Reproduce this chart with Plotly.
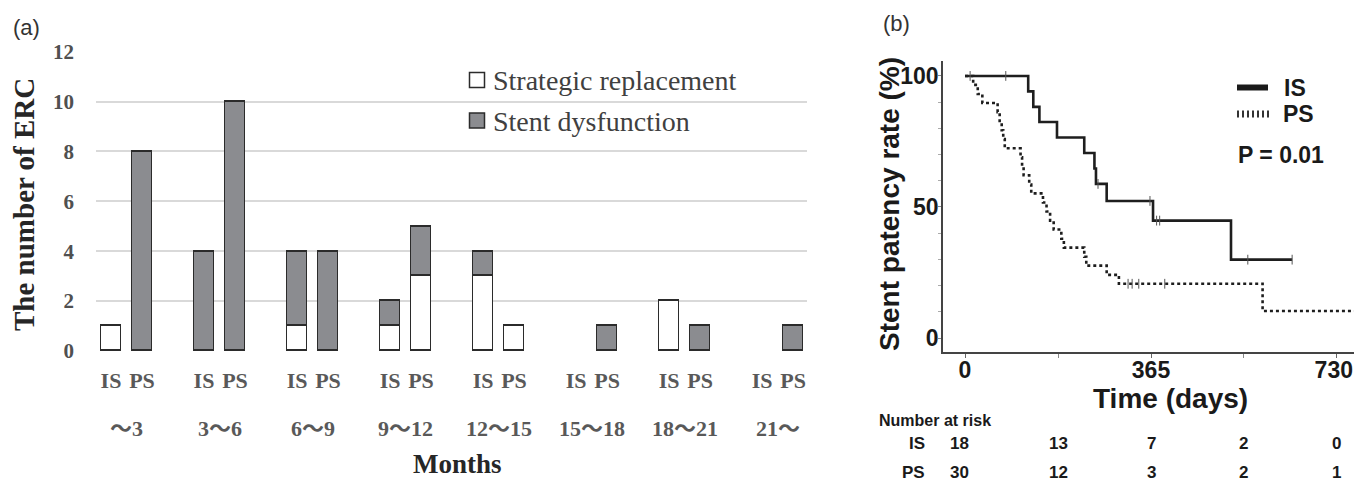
import plotly.graph_objects as go

# ---------------- Panel (a) data ----------------
month_bins = ["～3", "3～6", "6～9", "9～12", "12～15", "15～18", "18～21", "21～"]
group_names = ["IS", "PS"]
is_strategic = [1, 0, 1, 1, 3, 0, 2, 0]
is_dysfunction = [0, 4, 3, 1, 1, 0, 0, 0]
ps_strategic = [0, 0, 0, 3, 1, 0, 0, 0]
ps_dysfunction = [8, 10, 4, 2, 0, 1, 1, 1]
y_ticks_a = [0, 2, 4, 6, 8, 10, 12]

# ---------------- Panel (b) data ----------------
is_time = [0, 124, 134, 146, 180.5, 234, 254, 257, 278, 369, 522, 642]
is_surv = [100, 94.1, 88.2, 82.4, 76.5, 70.6, 64.7, 58.8, 52.3, 44.8, 29.9, 29.9]
is_cens_time = [80, 261, 363, 376, 382, 555, 642]
is_cens_surv = [100, 58.8, 52.3, 44.8, 44.8, 29.9, 29.9]
ps_time = [0, 16, 25, 34, 64, 68, 72, 75, 78, 109, 112, 115, 126, 130, 153, 160,
           167, 174, 189, 194, 234, 238, 278, 302, 584, 780]
ps_surv = [100, 96.6, 93.1, 89.7, 86.2, 82.8, 79.3, 75.9, 72.4, 69.0, 65.5, 62.1,
           58.6, 55.2, 51.7, 48.3, 44.8, 41.4, 37.9, 34.5, 31.0, 27.6, 24.1, 20.7,
           10.3, 10.3]
ps_cens_time = [10, 320, 328, 341, 392]
ps_cens_surv = [100, 20.7, 20.7, 20.7, 20.7]
x_ticks_b = [0, 365, 730]
x_minor_b = [182.5, 547.5]
y_ticks_b = [0, 50, 100]
y_minor_b = [10, 20, 30, 40, 60, 70, 80, 90]
risk_days = [0, 182.5, 365, 547.5, 730]
risk_is = [18, 13, 7, 2, 0]
risk_ps = [30, 12, 3, 2, 1]

# ---------------- helpers ----------------
W, H = 1354, 481


def px(x):
    return x / W


def py(y):
    return 1 - y / H


def nz(vals):
    # hide empty segments (zero-height bars would draw a stray outline)
    return [v if v else None for v in vals]


def bold(vals):
    return ["<b>%s</b>" % v for v in vals]


SERIF = "Liberation Serif, 'Noto Sans CJK JP', serif"
SANS = "Liberation Sans, Arial, sans-serif"
GRAY_FILL = "#8b8c90"
EDGE = "#2b2b2b"

n = len(month_bins)
x_is = [3 * g for g in range(n)]
x_ps = [3 * g + 1 for g in range(n)]

fig = go.Figure()

bar_w = 0.65
fig.add_trace(go.Bar(x=x_is, y=nz(is_strategic), width=bar_w, name="Strategic replacement",
                     marker=dict(color="white", line=dict(color=EDGE, width=1.5)),
                     showlegend=False, xaxis="x", yaxis="y"))
fig.add_trace(go.Bar(x=x_ps, y=nz(ps_strategic), width=bar_w, name="Strategic replacement",
                     marker=dict(color="white", line=dict(color=EDGE, width=1.5)),
                     showlegend=False, xaxis="x", yaxis="y"))
fig.add_trace(go.Bar(x=x_is, y=nz(is_dysfunction), width=bar_w, name="Stent dysfunction",
                     marker=dict(color=GRAY_FILL, line=dict(color=EDGE, width=1.5)),
                     showlegend=False, xaxis="x", yaxis="y"))
fig.add_trace(go.Bar(x=x_ps, y=nz(ps_dysfunction), width=bar_w, name="Stent dysfunction",
                     marker=dict(color=GRAY_FILL, line=dict(color=EDGE, width=1.5)),
                     showlegend=False, xaxis="x", yaxis="y"))

# KM curves
fig.add_trace(go.Scatter(x=is_time, y=is_surv, mode="lines", line_shape="hv",
                         line=dict(color="#1e1e1e", width=2.6), name="IS",
                         showlegend=False, xaxis="x2", yaxis="y2"))
fig.add_trace(go.Scatter(x=ps_time, y=ps_surv, mode="lines", line_shape="hv",
                         line=dict(color="#1e1e1e", width=2.6, dash="3px,3px"), name="PS",
                         showlegend=False, xaxis="x2", yaxis="y2"))
for ct, cs in [(is_cens_time, is_cens_surv), (ps_cens_time, ps_cens_surv)]:
    fig.add_trace(go.Scatter(x=ct, y=cs, mode="markers",
                             marker=dict(symbol="line-ns-open", size=7, color="#555",
                                         line=dict(color="#555", width=1)),
                             showlegend=False, xaxis="x2", yaxis="y2"))

annotations = []
shapes = []

# ---- panel (a) texts ----
annotations.append(dict(text="(a)", x=px(11), y=py(27), xref="paper", yref="paper",
                        xanchor="left", yanchor="middle", showarrow=False,
                        font=dict(family=SANS, size=22, color="#333")))
annotations.append(dict(text="<b>The number of ERC</b>", x=px(24), y=py(205), xref="paper",
                        yref="paper", textangle=-90, showarrow=False,
                        xanchor="center", yanchor="middle",
                        font=dict(family=SERIF, size=29, color="#262626")))
for g, lab in enumerate(month_bins):
    annotations.append(dict(text="<b>%s</b>" % lab, x=3 * g + 0.5, y=py(428), xref="x",
                            yref="paper", showarrow=False, xanchor="center", yanchor="middle",
                            font=dict(family=SERIF, size=22, color="#595959")))
annotations.append(dict(text="<b>Months</b>", x=px(457), y=py(481), xref="paper", yref="paper",
                        showarrow=False, xanchor="center", yanchor="bottom",
                        font=dict(family=SERIF, size=27, color="#262626")))

# legend (a)
legend_items = [("Strategic replacement", "white", 80), ("Stent dysfunction", GRAY_FILL, 120.5)]
for text, col, yc in legend_items:
    shapes.append(dict(type="rect", xref="paper", yref="paper",
                       x0=px(469.5), x1=px(484.5), y0=py(yc - 7.5), y1=py(yc + 7.5),
                       fillcolor=col, line=dict(color=EDGE, width=1.5)))
    annotations.append(dict(text=text, x=px(491), y=py(yc + 1), xref="paper", yref="paper",
                            showarrow=False, xanchor="left", yanchor="middle",
                            font=dict(family=SERIF, size=28, color="#404040")))

# ---- panel (b) texts ----
annotations.append(dict(text="(b)", x=px(881), y=py(23), xref="paper", yref="paper",
                        xanchor="left", yanchor="middle", showarrow=False,
                        font=dict(family=SANS, size=22, color="#333")))
annotations.append(dict(text="<b>Stent patency rate (%)</b>", x=px(889), y=py(204),
                        xref="paper", yref="paper", textangle=-90, showarrow=False,
                        xanchor="center", yanchor="middle",
                        font=dict(family=SANS, size=28, color="#1a1a1a")))
annotations.append(dict(text="<b>Time (days)</b>", x=px(1170), y=py(398), xref="paper",
                        yref="paper", showarrow=False, xanchor="center", yanchor="middle",
                        font=dict(family=SANS, size=28, color="#1a1a1a")))
# legend (b)
shapes.append(dict(type="line", xref="paper", yref="paper", x0=px(1237), x1=px(1268),
                   y0=py(87.5), y1=py(87.5), line=dict(color="#1a1a1a", width=6)))
shapes.append(dict(type="line", xref="paper", yref="paper", x0=px(1237), x1=px(1269),
                   y0=py(114), y1=py(114), line=dict(color="#333", width=7, dash="2px,3px")))
for text, xl, yc in [("IS", 1282, 87.5), ("PS", 1281, 114), ("P = 0.01", 1236, 155)]:
    annotations.append(dict(text="<b>%s</b>" % text, x=px(xl), y=py(yc), xref="paper",
                            yref="paper", showarrow=False, xanchor="left", yanchor="middle",
                            font=dict(family=SANS, size=23, color="#1a1a1a")))

# number at risk table
annotations.append(dict(text="<b>Number at risk</b>", x=px(877), y=py(420), xref="paper",
                        yref="paper", showarrow=False, xanchor="left", yanchor="middle",
                        font=dict(family=SANS, size=16, color="#1a1a1a")))
for name, vals, yc in [("IS", risk_is, 443), ("PS", risk_ps, 472)]:
    annotations.append(dict(text="<b>%s</b>" % name, x=px(927), y=py(yc), xref="paper",
                            yref="paper", showarrow=False, xanchor="right", yanchor="middle",
                            font=dict(family=SANS, size=17, color="#1a1a1a")))
    for d, v in zip(risk_days, vals):
        annotations.append(dict(text="<b>%s</b>" % v, x=d, y=py(yc), xref="x2", yref="paper",
                                showarrow=False, xanchor="center", yanchor="middle",
                                xshift=-6 if d == 0 else 0,
                                font=dict(family=SANS, size=17, color="#1a1a1a")))

# last day label sits flush with the right edge, as in the original
x_ticktext_b = bold(x_ticks_b)
x_ticktext_b[-1] = x_ticktext_b[-1] + "&nbsp;"

fig.update_layout(
    width=W, height=H, margin=dict(l=0, r=0, t=0, b=0, autoexpand=False),
    paper_bgcolor="white", plot_bgcolor="white",
    barmode="stack", bargap=0, showlegend=False,
    xaxis=dict(domain=[px(96), px(807)], range=[-0.484, 22.45], automargin=False,
               tickmode="array", tickvals=x_is + x_ps,
               ticktext=bold([group_names[0]] * n + [group_names[1]] * n),
               showgrid=False, zeroline=False, showline=False, ticks="",
               ticklabelstandoff=13,
               tickfont=dict(family=SERIF, size=22, color="#595959")),
    yaxis=dict(domain=[py(352), py(50.7)], range=[-0.04, 12.04], automargin=False,
               tickmode="array", tickvals=y_ticks_a, ticktext=bold(y_ticks_a),
               showgrid=True, gridcolor="#d9d9d9", gridwidth=1.5,
               zeroline=False, showline=False, ticks="", ticklabelstandoff=21,
               tickfont=dict(family=SERIF, size=21, color="#505050")),
    xaxis2=dict(domain=[px(943), 1.0], range=[-43.2, 763.4], anchor="y2", automargin=False,
                tickmode="array", tickvals=x_ticks_b, ticktext=x_ticktext_b,
                ticklabeloverflow="allow", ticklabelstandoff=-7,
                showgrid=False, zeroline=False, showline=True, linecolor="#444", linewidth=1.5,
                ticks="outside", ticklen=4, tickcolor="#666", tickwidth=1,
                minor=dict(tickmode="array", tickvals=x_minor_b, ticks="outside",
                           ticklen=4, tickcolor="#888", tickwidth=1),
                tickfont=dict(family=SANS, size=23, color="#1a1a1a")),
    yaxis2=dict(domain=[py(352), py(61)], range=[-5.34, 105.7], anchor="x2", automargin=False,
                tickmode="array", tickvals=y_ticks_b, ticktext=bold(y_ticks_b),
                showgrid=False, zeroline=False, showline=True, linecolor="#444", linewidth=1.5,
                ticks="outside", ticklen=3, tickcolor="#888", tickwidth=1,
                ticklabelstandoff=-5,
                minor=dict(tickmode="array", tickvals=y_minor_b, ticks="outside",
                           ticklen=3, tickcolor="#aaa", tickwidth=1),
                tickfont=dict(family=SANS, size=23, color="#1a1a1a")),
    annotations=annotations, shapes=shapes,
)

fig.write_html("out.html", config={"displayModeBar": False},
               post_script="document.body.style.margin='0';")
